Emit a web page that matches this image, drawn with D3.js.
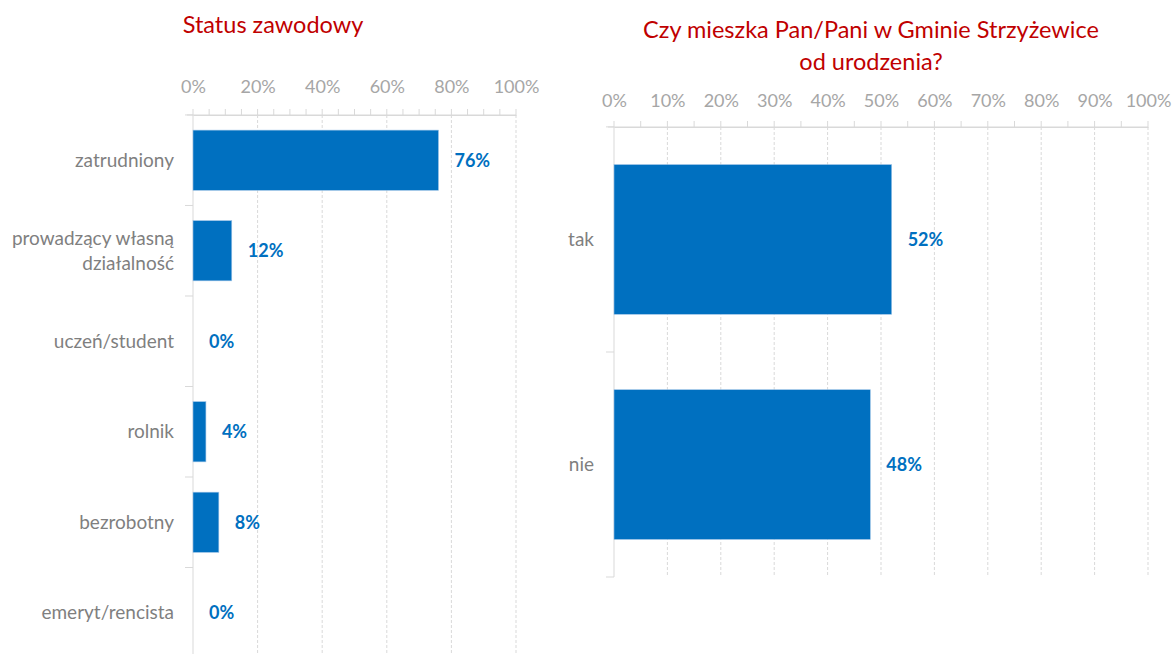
<!DOCTYPE html>
<html><head><meta charset="utf-8">
<script src="https://cdn.jsdelivr.net/npm/d3@7"></script>
<style>
body{margin:0;background:#fff;}
text{font-family:Lato,"Open Sans",sans-serif;}
</style></head>
<body><svg id="c" width="1173" height="654"></svg>
<script>
const leftCategories = ["zatrudniony", "prowadzący własną\ndziałalność", "uczeń/student", "rolnik", "bezrobotny", "emeryt/rencista"];
const leftValues = [76, 12, 0, 4, 8, 0];
const leftTicks = [0, 20, 40, 60, 80, 100];
const rightCategories = ["tak", "nie"];
const rightValues = [52, 48];
const rightTicks = [0, 10, 20, 30, 40, 50, 60, 70, 80, 90, 100];
const leftTitle = ["Status zawodowy"];
const rightTitle = ["Czy mieszka Pan/Pani w Gminie Strzyżewice", "od urodzenia?"];

const svg = d3.select("#c");
const BLUE = "#0070C0", GRID = "#d9d9d9";

function panel(o) {
  const g = svg.append("g");
  const x = d3.scaleLinear().domain([0, 100]).range([o.x0, o.x1]);
  const y = d3.scaleBand().domain(o.cats).range([o.y0, o.y1]).paddingInner(0.335).paddingOuter(0.167);
  o.title.forEach((t, i) => g.append("text").attr("x", o.tx).attr("y", o.ty + i * 32)
    .attr("text-anchor", "middle").attr("fill", "#C00000").attr("font-size", 23.5).text(t));
  g.selectAll(".grid").data(o.ticks.filter(d => d > 0)).join("line")
    .attr("x1", d => x(d)).attr("x2", d => x(d)).attr("y1", o.y0).attr("y2", o.y1)
    .attr("stroke", GRID).attr("stroke-dasharray", "3,2").attr("stroke-width", 1);
  const axis = d3.axisTop(x).tickValues(o.ticks).tickFormat(d => d + "%").tickSize(0).tickPadding(0);
  const ag = g.append("g").attr("transform", `translate(0,${o.y0})`).call(axis);
  ag.select(".domain").attr("stroke", GRID);
  ag.selectAll("text").attr("y", o.labelY - o.y0).attr("dy", "0.35em").attr("fill", "#a6a6a6")
    .attr("font-size", 18).attr("font-family", "Lato,'Open Sans',sans-serif");
  const minor = d3.range(0, 100.1, 5);
  g.selectAll(".mt").data(minor).join("line")
    .attr("x1", d => x(d)).attr("x2", d => x(d)).attr("y1", o.y0 - 6).attr("y2", o.y0)
    .attr("stroke", GRID);
  g.append("line").attr("x1", o.x0 - 6).attr("x2", o.x1).attr("y1", o.y0).attr("y2", o.y0).attr("stroke", GRID);
  g.append("line").attr("x1", o.x0).attr("x2", o.x0).attr("y1", o.y0).attr("y2", o.y1).attr("stroke", GRID);
  const bounds = o.cats.map(c => y(c) - y.step() * y.paddingInner() / 2).concat([o.y1]);
  g.selectAll(".yt").data(bounds).join("line")
    .attr("x1", o.x0 - 8).attr("x2", o.x0).attr("y1", d => d).attr("y2", d => d).attr("stroke", GRID);
  g.selectAll(".bar").data(o.vals).join("rect")
    .attr("x", x(0)).attr("y", (d, i) => y(o.cats[i])).attr("width", d => x(d) - x(0))
    .attr("height", y.bandwidth()).attr("fill", BLUE).attr("stroke", "#9dc3e6").attr("stroke-width", 0.6);
  g.selectAll(".vl").data(o.vals).join("text")
    .attr("x", d => x(d) + 16).attr("y", (d, i) => y(o.cats[i]) + y.bandwidth() / 2).attr("dy", "0.35em")
    .attr("fill", BLUE).attr("font-weight", "bold").attr("font-size", 18).text(d => d + "%");
  o.cats.forEach(c => {
    const lines = c.split("\n");
    const cy = y(c) + y.bandwidth() / 2;
    lines.forEach((l, i) => g.append("text").attr("x", o.cx).attr("y", cy + (i - (lines.length - 1) / 2) * 25)
      .attr("dy", "0.35em").attr("text-anchor", "end").attr("fill", "#7f7f7f").attr("font-size", 19).text(l));
  });
}

panel({cats: leftCategories, vals: leftValues, ticks: leftTicks, title: leftTitle,
  x0: 193, x1: 516, y0: 115, y1: 658, labelY: 87, tx: 273, ty: 33, cx: 174});
panel({cats: rightCategories, vals: rightValues, ticks: rightTicks, title: rightTitle,
  x0: 614, x1: 1148, y0: 127, y1: 577, labelY: 101, tx: 871, ty: 38, cx: 594});
</script></body></html>
